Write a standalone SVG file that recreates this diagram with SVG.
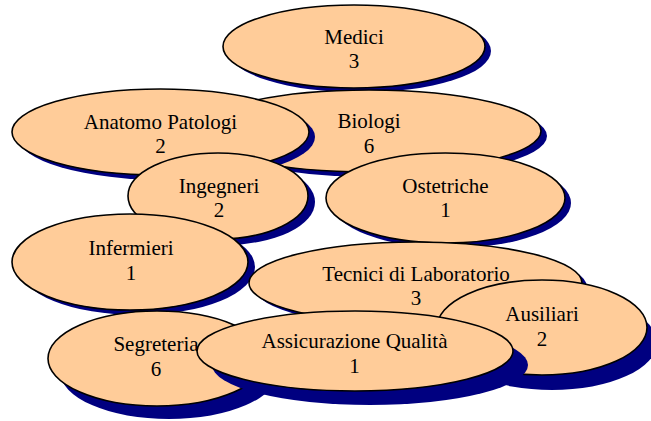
<svg xmlns="http://www.w3.org/2000/svg" width="651" height="421" viewBox="0 0 651 421">
<style>
.sh{fill:#000080;stroke:none}
.el{fill:#FFCC99;stroke:#000;stroke-width:1.6}
text{font-family:"Liberation Serif","Times New Roman",serif;font-size:21px;fill:#000;text-anchor:middle}
</style>
<rect width="651" height="421" fill="#fff"/>
<g id="connectors"></g>
<g id="medici">
<ellipse class="sh" cx="360" cy="51" rx="131" ry="41.5"/>
<ellipse class="el" cx="354" cy="46.5" rx="131" ry="41.5"/>
<text x="354" y="44">Medici</text><text x="354" y="68">3</text>
</g>
<g id="biologi">
<ellipse class="sh" cx="375" cy="136" rx="172" ry="41"/>
<ellipse class="el" cx="369" cy="131" rx="172" ry="41"/>
<text x="369" y="128">Biologi</text><text x="369" y="153">6</text>
</g>
<g id="anatomo">
<ellipse class="sh" cx="166.5" cy="137" rx="148.5" ry="43"/>
<ellipse class="el" cx="160.5" cy="132" rx="148.5" ry="43"/>
<text x="160.5" y="129">Anatomo Patologi</text><text x="160.5" y="153">2</text>
</g>
<g id="ingegneri">
<ellipse class="sh" cx="225" cy="202" rx="90" ry="43"/>
<ellipse class="el" cx="218" cy="196" rx="90" ry="43"/>
<text x="219" y="193">Ingegneri</text><text x="219" y="217">2</text>
</g>
<g id="ostetriche">
<ellipse class="sh" cx="451.5" cy="203" rx="119.5" ry="45"/>
<ellipse class="el" cx="445.5" cy="198" rx="119.5" ry="45"/>
<text x="445.5" y="193">Ostetriche</text><text x="445.5" y="217">1</text>
</g>
<g id="infermieri">
<ellipse class="sh" cx="137" cy="267" rx="118" ry="48"/>
<ellipse class="el" cx="130" cy="262" rx="118" ry="48"/>
<text x="131" y="255">Infermieri</text><text x="131" y="280">1</text>
</g>
<g id="tecnici">
<ellipse class="sh" cx="420.5" cy="287" rx="166.5" ry="41"/>
<ellipse class="el" cx="415.5" cy="283" rx="166.5" ry="41"/>
<text x="416" y="281">Tecnici di Laboratorio</text><text x="416" y="305">3</text>
</g>
<g id="ausiliari">
<ellipse class="sh" cx="552" cy="342.5" rx="105" ry="47.5"/>
<ellipse class="el" cx="542" cy="327.5" rx="105" ry="47.5"/>
<text x="542" y="321">Ausiliari</text><text x="542" y="346">2</text>
</g>
<g id="segreteria">
<ellipse class="sh" cx="169" cy="371.5" rx="109" ry="47.5"/>
<ellipse class="el" cx="157" cy="358.5" rx="109" ry="47.5"/>
<text x="156" y="351">Segreteria</text><text x="156" y="376">6</text>
</g>
<g id="assicurazione">
<ellipse class="sh" cx="370" cy="365" rx="158" ry="40"/>
<ellipse class="el" cx="355" cy="351" rx="158" ry="40"/>
<text x="354.5" y="348">Assicurazione Qualità</text><text x="354.5" y="373">1</text>
</g>
</svg>
